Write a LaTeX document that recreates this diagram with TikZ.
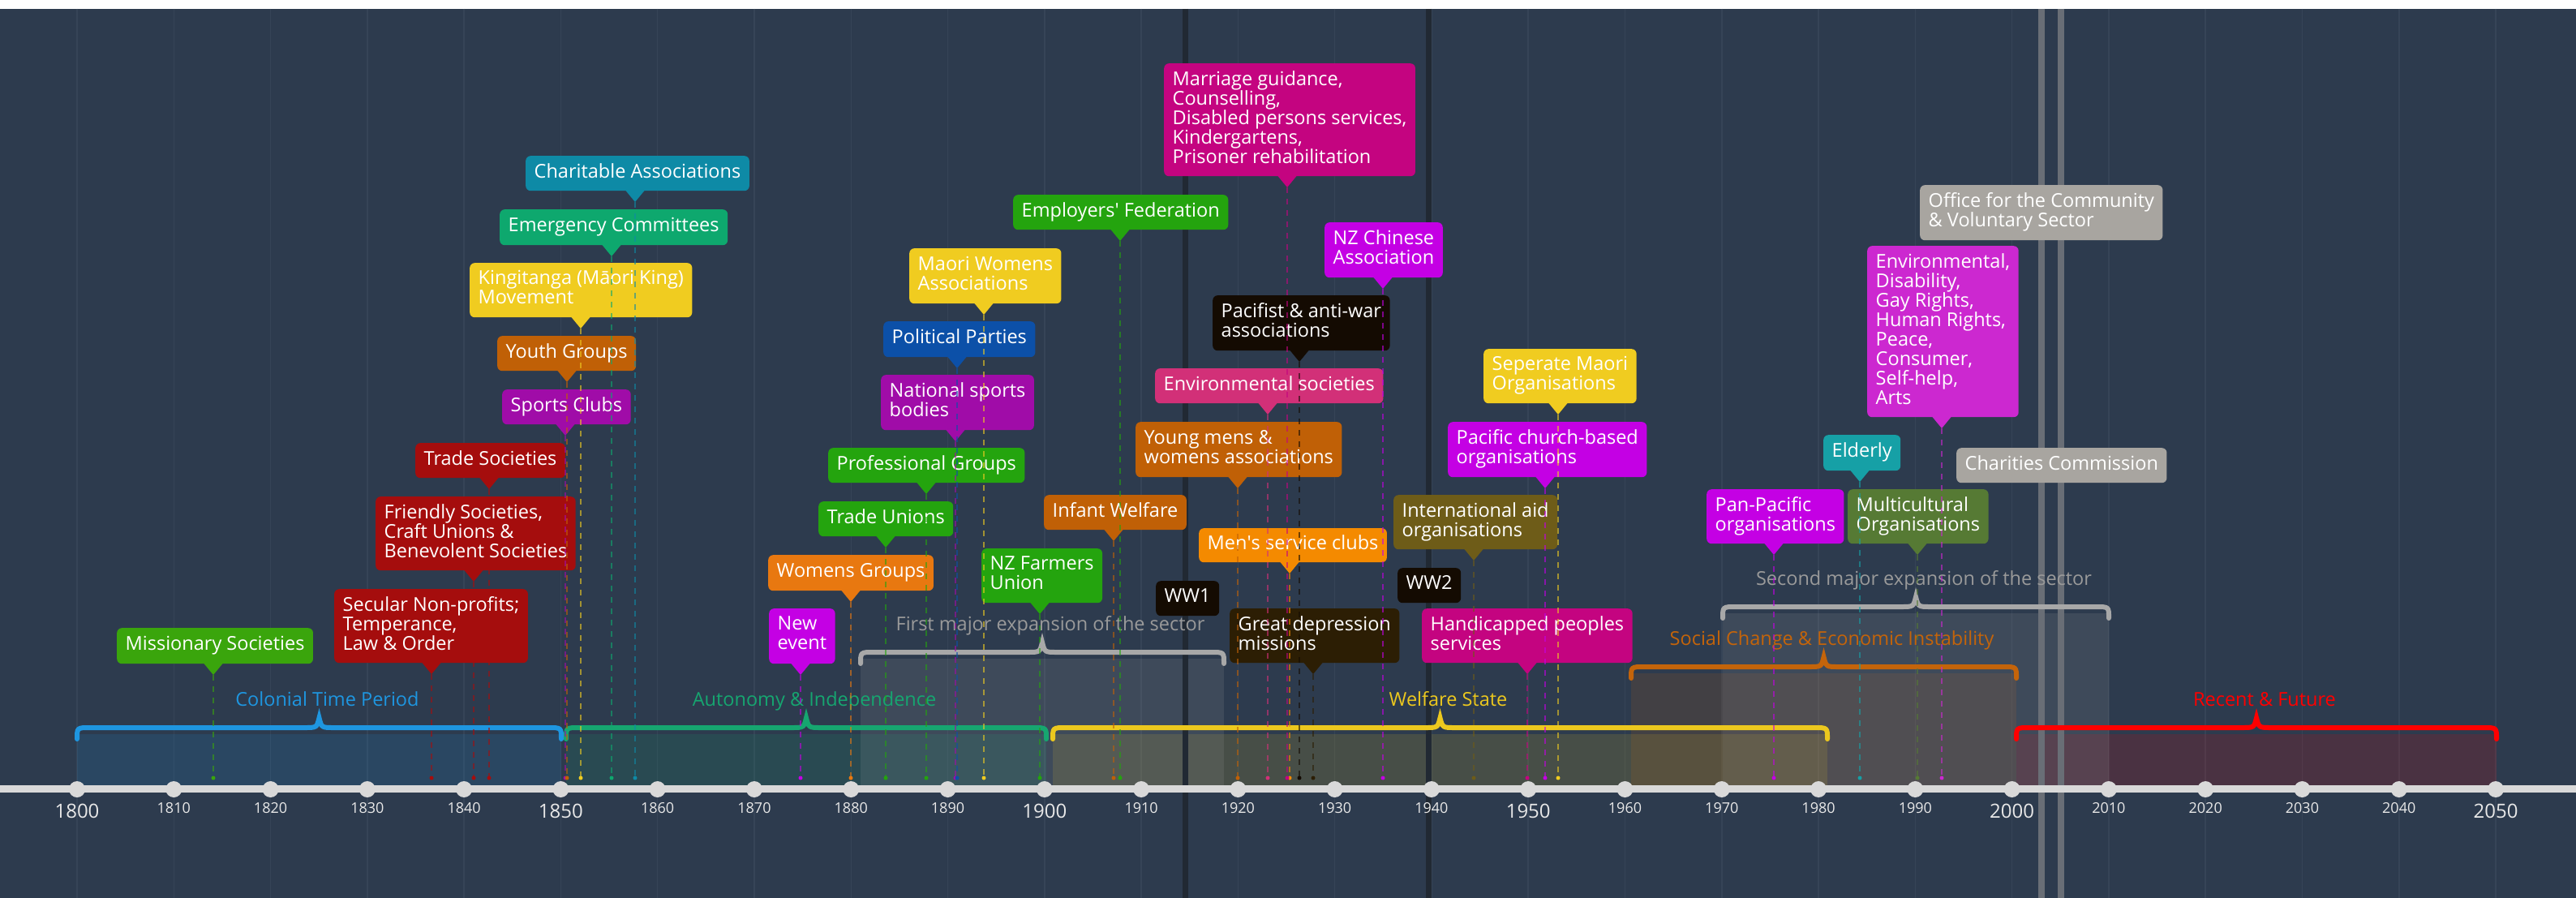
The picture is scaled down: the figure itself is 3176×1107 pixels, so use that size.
\documentclass[tikz,border=0pt]{standalone}
\usepackage{fontspec}
\setmainfont{Open Sans}
\definecolor{bg}{RGB}{45,59,78}
\definecolor{gridc}{RGB}{54,68,87}
\definecolor{wwc}{RGB}{33,41,51}
\definecolor{grayl}{RGB}{105,110,118}
\definecolor{axisc}{RGB}{217,217,217}
\definecolor{axistxt}{RGB}{232,232,232}
\definecolor{cmiss}{RGB}{58,165,12}
\definecolor{cgrn}{RGB}{36,164,14}
\definecolor{cred}{RGB}{165,13,13}
\definecolor{cpurp}{RGB}{160,12,168}
\definecolor{cbrown}{RGB}{192,96,6}
\definecolor{cyel}{RGB}{240,204,32}
\definecolor{cemer}{RGB}{14,168,110}
\definecolor{cchar}{RGB}{14,138,166}
\definecolor{cmag}{RGB}{196,0,228}
\definecolor{corange}{RGB}{232,120,16}
\definecolor{cpol}{RGB}{12,80,168}
\definecolor{cblack}{RGB}{20,11,2}
\definecolor{cpink}{RGB}{210,48,120}
\definecolor{cmens}{RGB}{244,138,0}
\definecolor{cdepr}{RGB}{44,30,4}
\definecolor{cmarr}{RGB}{196,4,128}
\definecolor{colive}{RGB}{110,92,24}
\definecolor{cgray}{RGB}{168,165,160}
\definecolor{cenvdis}{RGB}{204,40,208}
\definecolor{cteal}{RGB}{22,160,166}
\definecolor{cmulti}{RGB}{86,122,52}
\definecolor{pblue}{RGB}{30,150,224}
\definecolor{pgreen}{RGB}{22,166,112}
\definecolor{pyel}{RGB}{236,200,30}
\definecolor{porange}{RGB}{196,100,10}
\definecolor{pgray}{RGB}{168,168,168}
\definecolor{pgraytxt}{RGB}{154,154,154}
\definecolor{pred}{RGB}{255,0,0}
\newcommand\evfont{\fontsize{23.5}{24}\selectfont}
\newcommand\ev[7]{%
  \node[evbox, fill=#6, minimum height={(#4-#3)*1pt}] (#1) at (#2,#3) {#7};
  \fill[#6] (#5-14,#4-3) -- (#5,#4+14) -- (#5+14,#4-3) -- cycle;
  \coordinate (#1-t) at (#5,#4+14);
  \coordinate (#1-a) at (#5,959);
}
\newcommand\pershade[4]{\fill[#4, opacity=0.14] (#1,#3+8) rectangle (#2,968);}
\newcommand\perbrace[7]{%
  \draw[bracestyle, #5] (#2,#4+14) .. controls (#2,#4) .. (#2+16,#4) -- ({(#2+#3)/2-18},#4) .. controls ({(#2+#3)/2-3},#4) .. ({(#2+#3)/2},#4-12) .. controls ({(#2+#3)/2+3},#4) .. ({(#2+#3)/2+18},#4) -- (#3-16,#4) .. controls (#3,#4) .. (#3,#4+14);
  \node[blabel, text=#6] (#1) at ({(#2+#3)/2+10},#4-27) {#7};
}
\begin{document}
\begin{tikzpicture}[x=1pt,y=-1pt,
  evbox/.style={anchor=north west, rounded corners=6pt, inner xsep=10.5pt, inner ysep=0pt, text=white, align=left, font=\evfont, execute at begin node=\strut, execute at end node=\strut},
  evline/.style={line width=2.8pt, dash pattern=on 7pt off 7pt, opacity=0.6},
  bracestyle/.style={line width=6pt, line cap=round},
  blabel/.style={anchor=base, font=\evfont, inner sep=0pt},
  yearmaj/.style={font=\fontsize{24}{24}\selectfont, text=axistxt, inner sep=0pt},
  yearmin/.style={font=\fontsize{18}{18}\selectfont, text=axistxt, inner sep=0pt},
  fullline/.style={line width=7pt}
]
\useasboundingbox (0,0) rectangle (3176,1107);
\fill[bg] (0,0) rectangle (3176,1107);
\fill[white] (0,0) rectangle (3176,11);
% grid
\foreach \i in {0,...,25} {\draw[gridc, line width=1.5pt] ({95+\i*119.28},11) -- ({95+\i*119.28},1107);}
% period shades
\pershade{95}{692}{897}{pblue}
\pershade{698}{1290}{897}{pgreen}
\pershade{1298}{2253}{897}{pyel}
\pershade{2486}{3078}{897}{pred}
\pershade{2011}{2486}{822}{porange}
\pershade{1061}{1509}{804}{pgray}
\pershade{2124}{2600}{748}{pgray}
% full-height event lines
\coordinate (ww1-top) at (1461,11); \coordinate (ww1-bot) at (1461,1107);
\coordinate (ww2-top) at (1761,11); \coordinate (ww2-bot) at (1761,1107);
\coordinate (office-top) at (2517,11); \coordinate (office-bot) at (2517,1107);
\coordinate (charcom-top) at (2541,11); \coordinate (charcom-bot) at (2541,1107);
\draw[fullline, wwc] (ww1-top) -- (ww1-bot);
\draw[fullline, wwc] (ww2-top) -- (ww2-bot);
\draw[fullline, grayl, line width=8pt] (office-top) -- (office-bot);
\draw[fullline, grayl, line width=8pt] (charcom-top) -- (charcom-bot);
% braces
\perbrace{colonial}{95}{692}{897}{pblue}{pblue}{Colonial Time Period}
\perbrace{autonomy}{698}{1290}{897}{pgreen}{pgreen}{Autonomy \& Independence}
\perbrace{welfare}{1298}{2253}{897}{pyel}{pyel}{Welfare State}
\perbrace{recent}{2486}{3078}{897}{pred}{pred}{Recent \& Future}
\perbrace{social}{2011}{2486}{822}{porange}{porange}{Social Change \& Economic Instability}
\perbrace{first}{1061}{1509}{804}{pgray}{pgraytxt}{First major expansion of the sector}
\perbrace{second}{2124}{2600}{748}{pgray}{pgraytxt}{Second major expansion of the sector}
% axis
\draw[axisc, line width=9pt] (0,972.5) -- (3176,972.5);
\foreach \i in {0,...,25} {\fill[axisc] ({95+\i*119.28},973) circle (10pt);}
\foreach \i in {0,5,...,25} {\pgfmathtruncatemacro\yr{1800+10*\i}\node[yearmaj] (yl\yr) at ({95+\i*119.28},1000) {\yr};}
\foreach \i in {1,2,3,4,6,7,8,9,11,12,13,14,16,17,18,19,21,22,23,24} {\pgfmathtruncatemacro\yr{1800+10*\i}\node[yearmin] (yl\yr) at ({95+\i*119.28},996) {\yr};}
% events
\ev{miss}{144}{774}{818}{263}{cmiss}{Missionary Societies}
\ev{secular}{412}{726}{817}{532}{cred}{Secular Non-profits;\\Temperance,\\Law \& Order}
\ev{friendly}{463}{612}{703}{584}{cred}{Friendly Societies,\\Craft Unions \&\\Benevolent Societies}
\ev{tradesoc}{512}{546}{589}{603}{cred}{Trade Societies}
\ev{sports}{619}{480}{523}{697}{cpurp}{Sports Clubs}
\ev{youth}{613}{414}{457}{699}{cbrown}{Youth Groups}
\ev{kingi}{579}{324}{391}{716}{cyel}{Kingitanga (Māori King)\\Movement}
\ev{emerg}{616}{258}{302}{754}{cemer}{Emergency Committees}
\ev{charit}{648}{192}{235}{783}{cchar}{Charitable Associations}
\ev{newev}{948}{750}{818}{987}{cmag}{New\\event}
\ev{womens}{947}{684}{728}{1049}{corange}{Womens Groups}
\ev{tunions}{1009}{618}{661}{1092}{cgrn}{Trade Unions}
\ev{profg}{1021}{552}{595}{1142}{cgrn}{Professional Groups}
\ev{natsport}{1086}{462}{530}{1178}{cpurp}{National sports\\bodies}
\ev{polpart}{1089}{396}{440}{1180}{cpol}{Political Parties}
\ev{maoriw}{1121}{306}{374}{1213}{cyel}{Maori Womens\\Associations}
\ev{farmers}{1210}{676}{743}{1282}{cgrn}{NZ Farmers\\Union}
\ev{infant}{1287}{610}{653}{1373}{cbrown}{Infant Welfare}
\ev{employ}{1249}{240}{283}{1381}{cgrn}{Employers\textquotesingle{} Federation}
\ev{envsoc}{1424}{454}{497}{1563}{cpink}{Environmental societies}
\ev{youngm}{1400}{520}{588}{1526}{cbrown}{Young mens \&\\womens associations}
\ev{mens}{1478}{651}{693}{1590}{cmens}{Men\textquotesingle{}s service clubs}
\ev{depr}{1516}{750}{817}{1619}{cdepr}{Great depression\\missions}
\ev{marriage}{1435}{78}{217}{1587}{cmarr}{Marriage guidance,\\Counselling,\\Disabled persons services,\\Kindergartens,\\Prisoner rehabilitation}
\ev{chinese}{1633}{274}{342}{1705}{cmag}{NZ Chinese\\Association}
\ev{pacifist}{1495}{364}{432}{1602}{cblack}{Pacifist \& anti-war\\associations}
\ev{sepmaori}{1829}{430}{497}{1921}{cyel}{Seperate Maori\\Organisations}
\ev{pacchurch}{1785}{520}{588}{1905}{cmag}{Pacific church-based\\organisations}
\ev{intaid}{1718}{610}{677}{1817}{colive}{International aid\\organisations}
\ev{handi}{1753}{750}{817}{1883}{cmarr}{Handicapped peoples\\services}
\ev{envdis}{2302}{303}{514}{2394}{cenvdis}{Environmental,\\Disability,\\Gay Rights,\\Human Rights,\\Peace,\\Consumer,\\Self-help,\\Arts}
\ev{elderly}{2248}{536}{580}{2293}{cteal}{Elderly}
\ev{panpac}{2104}{603}{670}{2187}{cmag}{Pan-Pacific\\organisations}
\ev{multi}{2278}{603}{670}{2364}{cmulti}{Multicultural\\Organisations}
\node[evbox, fill=cblack, minimum height=43pt] (ww1) at (1425,716) {WW1};
\node[evbox, fill=cblack, minimum height=43pt] (ww2) at (1723,700) {WW2};
\node[evbox, fill=cgray, minimum height=68pt] (office) at (2367,228) {Office for the Community\\\& Voluntary Sector};
\node[evbox, fill=cgray, minimum height=43pt] (charcom) at (2412,552) {Charities Commission};
% dashed event lines
\foreach \n/\c in {miss/cmiss, secular/cred, friendly/cred, tradesoc/cred, sports/cpurp, youth/cbrown, kingi/cyel, emerg/cemer, charit/cchar, newev/cmag, womens/corange, tunions/cgrn, profg/cgrn, natsport/cpurp, polpart/cpol, maoriw/cyel, farmers/cgrn, infant/cbrown, employ/cgrn, envsoc/cpink, youngm/cbrown, mens/cmens, depr/cdepr, marriage/cmarr, chinese/cmag, pacifist/cblack, sepmaori/cyel, pacchurch/cmag, intaid/colive, handi/cmarr, envdis/cenvdis, elderly/cteal, panpac/cmag, multi/cmulti} {
  \draw[evline, draw=\c] (\n-t) -- (\n-a);
  \fill[\c] (\n-a) circle (2.5pt);
}
\end{tikzpicture}
\end{document}
